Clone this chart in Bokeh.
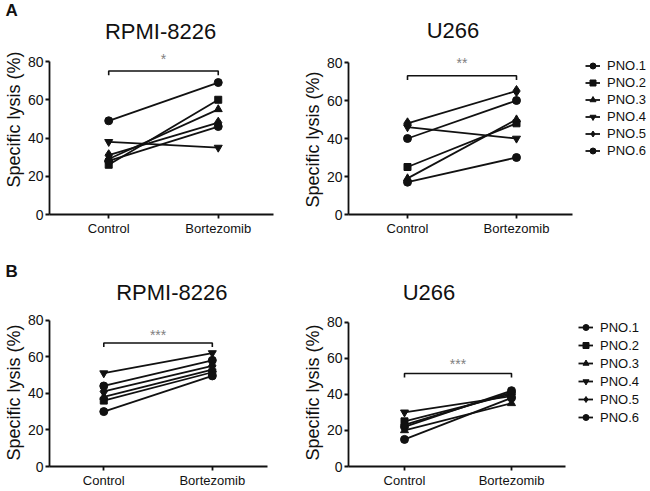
from bokeh.plotting import figure
from bokeh.layouts import column, row
from bokeh.models import Range1d, FixedTicker, Legend, LegendItem, Title
from bokeh.embed import file_html
from bokeh.resources import INLINE
from bokeh.core.properties import value

# ---------------- data ----------------
categories = ["Control", "Bortezomib"]
patients = ["PNO.1", "PNO.2", "PNO.3", "PNO.4", "PNO.5", "PNO.6"]
markers = ["circle", "square", "triangle", "inverted_triangle", "diamond", "circle"]
y_ticks = [0, 20, 40, 60, 80]

a_rpmi_control = [49, 26, 29, 38, 31, 28]
a_rpmi_bortezomib = [69, 60, 55, 35, 48, 46]
a_u266_control = [40, 25, 19, 46, 48, 17]
a_u266_bortezomib = [60, 48, 50, 40, 65, 30]
b_rpmi_control = [44, 36, 38, 51, 41, 30]
b_rpmi_bortezomib = [58, 51.5, 53, 62, 55, 49.5]
b_u266_control = [22, 25, 20, 30, 23, 15]
b_u266_bortezomib = [42, 40, 35, 39, 41, 38]

significance = ["*", "**", "***", "***"]
bracket_heights = [75, 73, 67.5, 51.5]
star_heights = [81.5, 80, 72, 57]
y_label = "Specific lysis (%)"

FONT = "Liberation Sans"
INK = "#111111"
marker_sizes = {"circle": 8, "square": 7, "triangle": 8, "inverted_triangle": 8, "diamond": 11}


def make_panel(title, control, bort, sig, bh, sh, width, height, borders,
               xr, axis_end, y_end, title_pos, ylabel_offset,
               legend_loc=None, legend_item_h=17, letter=None):
    bl, br, bt, bb = borders
    p = figure(width=width, height=height, output_backend="svg", toolbar_location=None,
               x_range=Range1d(xr[0], xr[1]), y_range=Range1d(0, y_end),
               min_border_left=bl, min_border_right=br, min_border_top=bt, min_border_bottom=bb)
    p.outline_line_color = None
    p.xgrid.visible = False
    p.ygrid.visible = False
    p.background_fill_color = "white"
    p.border_fill_color = "white"

    xs = list(range(len(categories)))
    items = []
    for i, name in enumerate(patients):
        lr = p.line(x=xs, y=[control[i], bort[i]], line_color=INK, line_width=1.8)
        sr = p.scatter(x=xs, y=[control[i], bort[i]], marker=markers[i],
                       size=marker_sizes[markers[i]], fill_color=INK, line_color=INK)
        items.append(LegendItem(label=name, renderers=[lr, sr]))

    # panel title (cell line)
    p.text(x=[title_pos[0]], y=[title_pos[1]], text=[title], text_font=value(FONT),
           text_font_size="22px", text_align="center", text_baseline="alphabetic",
           text_color=INK)

    # significance bracket
    p.line(x=[xs[0], xs[0], xs[1], xs[1]], y=[bh - 2.2, bh, bh, bh - 2.2],
           line_color=INK, line_width=1.6)
    p.text(x=[(xs[0] + xs[1]) / 2], y=[sh], text=[sig], text_font=value(FONT),
           text_font_size="14px", text_align="center", text_baseline="middle",
           text_color="#808080")

    # axes
    p.yaxis.ticker = FixedTicker(ticks=y_ticks)
    p.yaxis.bounds = (y_ticks[0], y_ticks[-1])
    p.xaxis.ticker = FixedTicker(ticks=xs)
    p.xaxis.bounds = (xr[0], axis_end)
    p.xaxis.major_label_overrides = {x: c for x, c in zip(xs, categories)}
    for ax in (p.xaxis[0], p.yaxis[0]):
        ax.axis_line_width = 1.8
        ax.axis_line_color = INK
        ax.major_tick_line_width = 1.8
        ax.major_tick_line_color = INK
        ax.major_tick_in = 0
        ax.major_tick_out = 4
        ax.minor_tick_line_color = None
        ax.major_label_text_font = FONT
        ax.major_label_text_color = INK
        ax.major_label_standoff = 2
    p.yaxis.major_label_text_font_size = "14px"
    p.xaxis.major_label_text_font_size = "13px"

    # y-axis label, placed as a side title so that it can sit where the reference has it
    p.add_layout(Title(text=y_label, align="left", offset=ylabel_offset, standoff=2,
                       text_font=FONT, text_font_size="18px", text_font_style="normal",
                       text_color=INK), "left")

    if legend_loc is not None:
        lg = Legend(items=items, location=legend_loc, orientation="vertical",
                    margin=0, padding=0, spacing=0,
                    glyph_height=legend_item_h, label_height=legend_item_h, glyph_width=15,
                    label_standoff=7, label_text_font=FONT, label_text_font_size="13px",
                    label_text_color=INK, border_line_color=None, background_fill_alpha=0)
        p.add_layout(lg, "center")

    if letter:
        p.add_layout(Title(text=letter, align="left", offset=-44, vertical_align="top",
                           standoff=0, text_font=FONT, text_font_size="17px",
                           text_font_style="bold", text_color=INK), "above")
    return p


a1 = make_panel("RPMI-8226", a_rpmi_control, a_rpmi_bortezomib, significance[0],
                bracket_heights[0], star_heights[0], 298, 245, (46, 25, 21, 31),
                (-0.5405, 1.5045), 1.5045, 100.92, (0.473, 95.95), 27, letter="A")
a2 = make_panel("U266", a_u266_control, a_u266_bortezomib, significance[1],
                bracket_heights[1], star_heights[1], 350, 245, (50, 2, 21, 31),
                (-0.5413, 2.1927), 1.5138, 101.58, (0.417, 96.58), 7,
                legend_loc=(237, 55.5), legend_item_h=17)
b1 = make_panel("RPMI-8226", b_rpmi_control, b_rpmi_bortezomib, significance[2],
                bracket_heights[2], star_heights[2], 298, 245, (46, 25, 37, 22),
                (-0.5, 1.5636), 1.509, 100.54, (0.627, 94.86), 6, letter="B")
b2 = make_panel("U266", b_u266_control, b_u266_bortezomib, significance[3],
                bracket_heights[3], star_heights[3], 350, 245, (50, 2, 37, 22),
                (-0.5234, 2.2617), 1.5047, 101.92, (0.229, 96.16), 6,
                legend_loc=(230, 40), legend_item_h=18)

layout = column(row(a1, a2), row(b1, b2))
open("out.html", "w").write(file_html(layout, INLINE))
